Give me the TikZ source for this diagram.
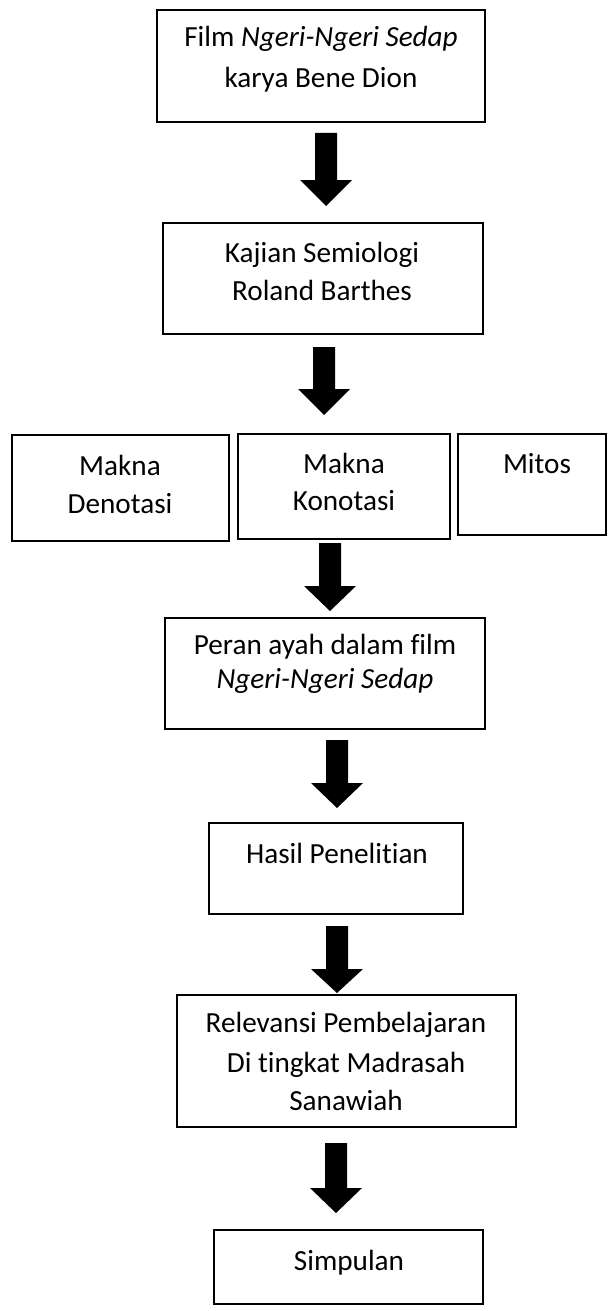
\documentclass[tikz,border=0pt]{standalone}
\usepackage{fontspec}
\setmainfont{Carlito}[Ligatures={NoCommon}]
\tikzset{
  box/.style={draw=black, line width=1.6pt, inner sep=0pt, fill=none},
  txt/.style={anchor=base, inner sep=0pt, font=\fontsize{29.2}{34}\selectfont},
  blockarrow/.style={fill=black, draw=none}
}
\newcommand{\mkbox}[5]{%
  \pgfmathsetmacro{\bw}{#4-#2}\pgfmathsetmacro{\bh}{#5-#3}%
  \pgfmathsetmacro{\bx}{(#2+#4)/2}\pgfmathsetmacro{\by}{(#3+#5)/2}%
  \node[box, minimum width=\bw pt, minimum height=\bh pt] (#1) at (\bx,\by) {};}
\newcommand{\mkarrow}[4]{%
  \fill[blockarrow] ({#1-11},#2) -- ({#1+11},#2) -- ({#1+11},#3) -- ({#1+26},#3)
    -- (#1,#4) -- ({#1-26},#3) -- ({#1-11},#3) -- cycle;}
\begin{document}
\begin{tikzpicture}[x=1pt,y=-1pt]
\useasboundingbox (0,0) rectangle (608,1311);
% boxes
\mkbox{b1}{157}{10}{485}{122}
\mkbox{b2}{163}{223}{483}{334}
\mkbox{den}{12}{435}{229}{541}
\mkbox{kon}{238}{434}{450}{539}
\mkbox{mit}{458}{434}{606}{535}
\mkbox{b4}{165}{618}{485}{729}
\mkbox{b5}{209}{823}{463}{914}
\mkbox{b6}{177}{995}{516}{1127}
\mkbox{b7}{214}{1230}{483}{1304}
% texts
\node[txt] (t1a) at (321,47) {Film \textit{Ngeri-Ngeri Sedap}};
\node[txt] (t1b) at (321,88) {karya Bene Dion};
\node[txt] (t2a) at (322,262) {Kajian Semiologi};
\node[txt] (t2b) at (322,300) {Roland Barthes};
\node[txt] (tda) at (120,475) {Makna};
\node[txt] (tdb) at (120,513) {Denotasi};
\node[txt] (tka) at (344,473) {Makna};
\node[txt] (tkb) at (344,510) {Konotasi};
\node[txt] (tm) at (537,473) {Mitos};
\node[txt] (t4a) at (325,654) {Peran ayah dalam film};
\node[txt] (t4b) at (325,688) {\textit{Ngeri-Ngeri Sedap}};
\node[txt] (t5) at (337,863) {Hasil Penelitian};
\node[txt] (t6a) at (346,1032) {Relevansi Pembelajaran};
\node[txt] (t6b) at (346,1072) {Di tingkat Madrasah};
\node[txt] (t6c) at (346,1110) {Sanawiah};
\node[txt] (t7) at (349,1270) {Simpulan};
% block arrows
\mkarrow{326}{133}{180}{206}
\mkarrow{324}{347}{389}{415}
\mkarrow{330}{543}{586}{611}
\mkarrow{337}{740}{783}{808}
\mkarrow{337}{926}{969}{993}
\mkarrow{336}{1143}{1188}{1213}
\end{tikzpicture}
\end{document}
